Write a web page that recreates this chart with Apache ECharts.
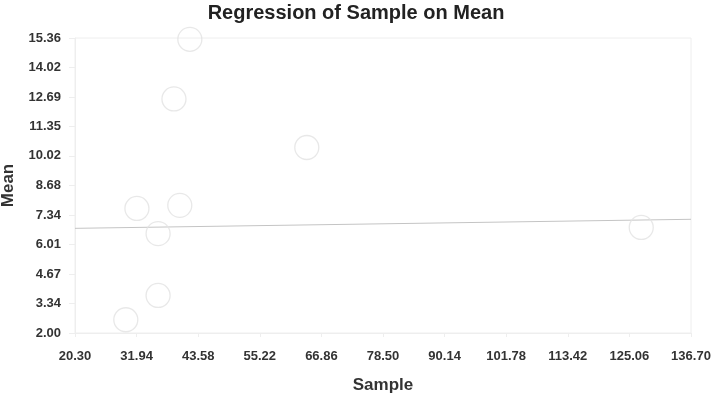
<!DOCTYPE html>
<html>
<head>
<meta charset="utf-8">
<script src="https://cdn.jsdelivr.net/npm/echarts@6/dist/echarts.min.js"></script>
<style>
  html, body { margin: 0; padding: 0; background: #fff; }
  #main { width: 712px; height: 396px; }
</style>
</head>
<body>
<div id="main"></div>
<script>
// sample (x) and mean (y) for each point
var sampleX = [42.0, 39.0, 64.1, 32.0, 40.1, 36.0, 36.0, 29.9, 127.3];
var meanY = [15.3, 12.6, 10.4, 7.64, 7.78, 6.5, 3.7, 2.6, 6.78];
// regression line end points
var lineX = [20.30, 136.70];
var lineY = [6.74, 7.15];
// tick labels
var xTicks = [20.30, 31.94, 43.58, 55.22, 66.86, 78.50, 90.14, 101.78, 113.42, 125.06, 136.70];
var yTicks = [2.00, 3.34, 4.67, 6.01, 7.34, 8.68, 10.02, 11.35, 12.69, 14.02, 15.36];

var chart = echarts.init(document.getElementById("main"));

var points = [];
for (var i = 0; i < sampleX.length; i++) {
    points.push([sampleX[i], meanY[i]]);
}
var line = [];
for (var j = 0; j < lineX.length; j++) {
    line.push([lineX[j], lineY[j]]);
}

var font = 'Arial, "Liberation Sans", sans-serif';

option = {
    animation: false,
    title: {
        text: 'Regression of Sample on Mean',
        left: 'center',
        top: -2,
        textStyle: { fontFamily: font, fontSize: 20, fontWeight: 'bold', color: '#222' }
    },
    grid: {
        left: 75,
        right: 21,
        top: 38,
        bottom: 63,
        outerBoundsMode: 'none',
        show: true,
        borderColor: '#eeeeee',
        borderWidth: 1
    },
    xAxis: {
        type: 'value',
        min: 20.30,
        max: 136.70,
        name: 'Sample',
        nameLocation: 'middle',
        nameGap: 44,
        nameTextStyle: { fontFamily: font, fontSize: 17, fontWeight: 'bold', color: '#333' },
        axisLine: { show: true, lineStyle: { color: '#eeeeee' } },
        axisTick: { show: true, customValues: xTicks, length: 4, lineStyle: { color: '#eeeeee' } },
        splitLine: { show: false },
        axisLabel: {
            customValues: xTicks,
            margin: 17,
            fontFamily: font, fontSize: 13, fontWeight: 'bold', color: '#333',
            formatter: function (v) { return v.toFixed(2); }
        }
    },
    yAxis: {
        type: 'value',
        min: 2.00,
        max: 15.36,
        name: 'Mean',
        nameLocation: 'middle',
        nameGap: 58,
        nameTextStyle: { fontFamily: font, fontSize: 17, fontWeight: 'bold', color: '#333' },
        axisLine: { show: true, lineStyle: { color: '#eeeeee' } },
        axisTick: { show: true, customValues: yTicks, length: 6, lineStyle: { color: '#eeeeee' } },
        splitLine: { show: false },
        axisLabel: {
            customValues: yTicks,
            margin: 14,
            fontFamily: font, fontSize: 13, fontWeight: 'bold', color: '#333',
            formatter: function (v) { return v.toFixed(2); }
        }
    },
    series: [
        {
            type: 'line',
            data: line,
            symbol: 'none',
            lineStyle: { color: '#c4c4c4', width: 1 },
            z: 1
        },
        {
            type: 'scatter',
            data: points,
            symbol: 'circle',
            symbolSize: 24,
            itemStyle: { color: 'rgba(255,255,255,0)', borderColor: '#e2e2e2', borderWidth: 1.3 },
            z: 2
        }
    ]
};

chart.setOption(option);
</script>
</body>
</html>
